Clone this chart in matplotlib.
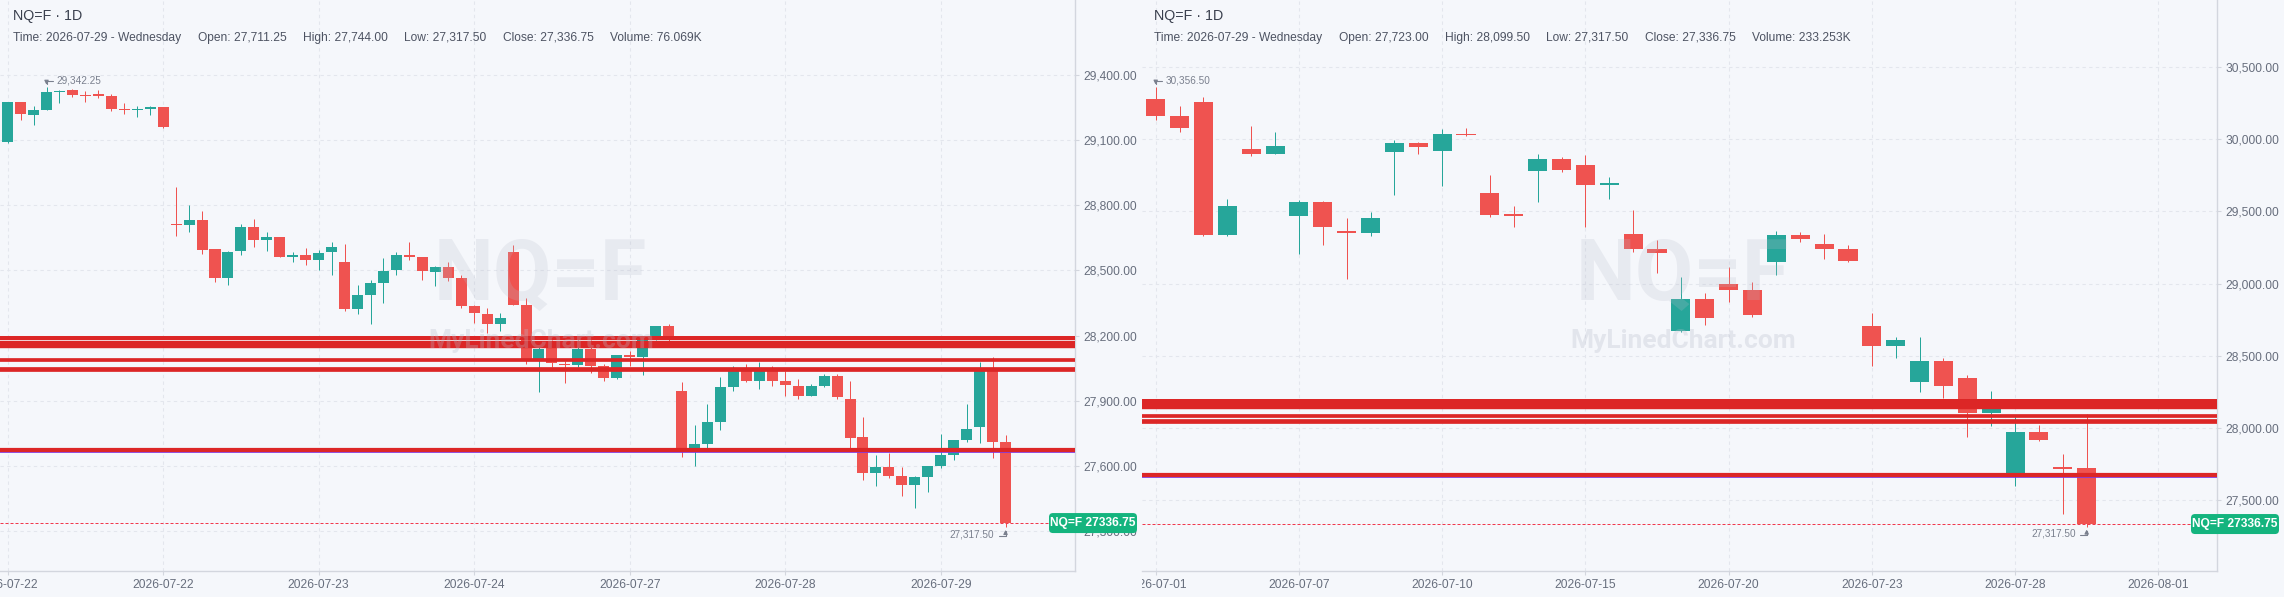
import matplotlib
matplotlib.use("Agg")
import matplotlib.pyplot as plt
from matplotlib import font_manager
from matplotlib.patches import Rectangle, FancyBboxPatch
from matplotlib.transforms import Bbox, TransformedBbox, IdentityTransform

SYMBOL = "NQ=F"

# ---- left panel: intraday bars 2026-07-22 .. 2026-07-29 ----
h2_open = [29091, 29274, 29215, 29238, 29321, 29329, 29306, 29308, 29301, 29242, 29238, 29243, 29251,
           28715, 28709, 28730, 28597, 28464, 28589, 28702, 28640, 28652, 28564, 28573, 28546, 28583,
           28537, 28320, 28389, 28444, 28500, 28573, 28564, 28491, 28514, 28463, 28334, 28297, 28251,
           28587, 28343, 28085, 28146, 28071, 28064, 28140, 28059, 28005, 28110, 28100, 28193, 28242,
           27947, 27683, 27703, 27800, 27965, 28035, 27993, 28039, 27993, 27970, 27924, 27970, 28016,
           27910, 27735, 27569, 27597, 27555, 27514, 27551, 27601, 27648, 27721, 27777, 28039, 27711.25]
h2_high = [29274, 29277, 29255, 29342.25, 29332, 29334, 29324, 29329, 29314, 29269, 29255, 29255, 29251,
           28884, 28799, 28772, 28600, 28588, 28712, 28735, 28676, 28656, 28583, 28601, 28592, 28629,
           28620, 28435, 28458, 28555, 28583, 28629, 28564, 28518, 28541, 28481, 28343, 28325, 28302,
           28615, 28371, 28150, 28180, 28085, 28180, 28180, 28070, 28112, 28127, 28185, 28246, 28251,
           27988, 27790, 27887, 28007, 28062, 28067, 28078, 28061, 28039, 27998, 27979, 28021, 28021,
           27993, 27823, 27652, 27661, 27597, 27555, 27601, 27749, 27721, 27887, 28076, 28099.5, 27744]
h2_low = [29086, 29191, 29169, 29237, 29271, 29298, 29275, 29295, 29234, 29220, 29206, 29215, 29156,
          28658, 28675, 28575, 28446, 28432, 28570, 28607, 28589, 28562, 28541, 28523, 28500, 28481,
          28311, 28297, 28251, 28352, 28481, 28546, 28458, 28426, 28449, 28329, 28256, 28210, 28223,
          28339, 28070, 27939, 28055, 27981, 28055, 28027, 27991, 27999, 28059, 28018, 28180, 28177,
          27640, 27601, 27683, 27767, 27947, 27984, 27952, 27967, 27924, 27910, 27921, 27961, 27910,
          27684, 27537, 27509, 27546, 27463, 27408, 27482, 27592, 27629, 27712, 27707, 27638, 27317.5]
h2_close = [29274, 29220, 29237, 29320, 29326, 29308, 29303, 29304, 29242, 29238, 29242, 29251, 29160,
            28709, 28730, 28593, 28464, 28587, 28702, 28638, 28652, 28564, 28573, 28546, 28578, 28610,
            28320, 28389, 28444, 28495, 28573, 28564, 28495, 28514, 28463, 28334, 28302, 28251, 28279,
            28343, 28085, 28140, 28073, 28064, 28140, 28059, 28005, 28110, 28100, 28180, 28242, 28193,
            27683, 27703, 27800, 27961, 28035, 27993, 28037, 27993, 27972, 27924, 27970, 28016, 27919,
            27730, 27569, 27597, 27555, 27514, 27551, 27601, 27648, 27721, 27772, 28039, 27712, 27336.75]
h2_tick_pos = [0, 12, 24, 36, 48, 60, 72]
h2_tick_lbl = ["2026-07-22", "2026-07-22", "2026-07-23", "2026-07-24", "2026-07-27", "2026-07-28", "2026-07-29"]
h2_yticks = [27300, 27600, 27900, 28200, 28500, 28800, 29100, 29400]
h2_date = "2026-07-29 - Wednesday"
h2_volume = "76.069K"

# ---- right panel: daily bars ----
d1_open = [30276, 30158, 30255, 29338, 29930, 29898, 29469, 29564, 29363, 29352,
           29912, 29972, 29919, 30034, 29626, 29474, 29780, 29861, 29820, 29684,
           29342, 29239, 28671, 28893, 28997, 28955, 29149, 29335, 29273, 29239,
           28706, 28569, 28322, 28464, 28346, 28106, 27690, 27972, 27729, 27723]
d1_high = [30356.5, 30228, 30290, 29584, 30089, 30048, 29577, 29571, 29453, 29494,
           29992, 29981, 30068, 30075, 29750, 29536, 29896, 29875, 29889, 29737,
           29508, 29301, 29045, 28934, 29114, 29010, 29363, 29356, 29342, 29266,
           28796, 28630, 28630, 28485, 28367, 28256, 28077, 28019, 27821, 28099.5]
d1_low = [30131, 30050, 29331, 29331, 29884, 29898, 29206, 29269, 29033, 29331,
          29614, 29896, 29677, 30020, 29462, 29393, 29564, 29773, 29393, 29584,
          29220, 29075, 28665, 28713, 28872, 28768, 29059, 29287, 29169, 29149,
          28432, 28485, 28248, 28209, 27937, 28016, 27603, 27911, 27405, 27317.5]
d1_close = [30161, 30078, 29338, 29536, 29898, 29951, 29564, 29393, 29352, 29453,
            29972, 29946, 30034, 30027, 29476, 29469, 29861, 29787, 29684, 29697,
            29239, 29213, 28893, 28761, 28955, 28782, 29335, 29308, 29239, 29156,
            28569, 28609, 28464, 28288, 28106, 28169, 27972, 27919, 27719, 27336.75]
d1_tick_pos = [0, 6, 12, 18, 24, 30, 36, 42]
d1_tick_lbl = ["2026-07-01", "2026-07-07", "2026-07-10", "2026-07-15", "2026-07-20",
               "2026-07-23", "2026-07-28", "2026-08-01"]
d1_yticks = [27500, 28000, 28500, 29000, 29500, 30000, 30500]
d1_date = "2026-07-29 - Wednesday"
d1_volume = "233.253K"

# drawn levels (same on both panels)
level_prices = [28191, 28159, 28086, 28047, 27675]
purple_level = 27662

# ---- style ----
W, H, DPI = 2284, 597, 100
BG = "#f5f7fb"
GRID = "#e3e6ed"
SPINE = "#d3d6de"
TICK_C = "#676e7d"
TEXT_C = "#4d5362"
UP, DOWN = "#26a69a", "#ef5350"
RED, PURPLE = "#dc2626", "#7c3aed"
GREEN = "#14b47e"
level_px = [4.0, 7.4, 3.7, 4.7, 4.2]
PX = 72.0 / DPI  # points per pixel

names = {f.name for f in font_manager.fontManager.ttflist}
if "Liberation Sans Narrow" in names:
    FONT, K = "Liberation Sans Narrow", 1.0
else:
    FONT, K = "Liberation Sans", 0.82
plt.rcParams["font.family"] = [FONT, "DejaVu Sans"]

fig = plt.figure(figsize=(W / DPI, H / DPI), dpi=DPI, facecolor=BG)
PLOT_H = 571


def add_panel(x0, x1):
    return fig.add_axes([x0 / W, 1 - PLOT_H / H, (x1 - x0) / W, PLOT_H / H])


def draw_panel(ax, o, h, l, c, xlim, ylim, yticks, tick_pos, tick_lbl, body_frac):
    ax.set_facecolor(BG)
    ax.set_xlim(*xlim)
    ax.set_ylim(*ylim)
    ax.yaxis.tick_right()
    ax.set_yticks(yticks)
    ax.set_yticklabels([f"{v:,.2f}" for v in yticks])
    ax.set_xticks(tick_pos)
    ax.set_xticklabels(tick_lbl)
    ax.tick_params(axis="both", length=3, width=0.8, color=SPINE, labelcolor=TICK_C,
                   labelsize=10.5 * K, pad=3)
    ax.grid(True, color=GRID, lw=0.8, linestyle=(0, (3, 3)))
    ax.set_axisbelow(True)
    for s in ("top", "left"):
        ax.spines[s].set_visible(False)
    for s in ("right", "bottom"):
        ax.spines[s].set_color(SPINE)
        ax.spines[s].set_linewidth(1.0)

    ppu = PLOT_H / (ylim[1] - ylim[0])
    min_h = 1.3 / ppu
    for i in range(len(o)):
        col = UP if c[i] >= o[i] else DOWN
        ax.vlines(i, l[i], h[i], color=col, lw=1.0 * PX, zorder=3)
        lo = min(o[i], c[i])
        ht = max(abs(c[i] - o[i]), min_h)
        ax.add_patch(Rectangle((i - body_frac / 2, lo), body_frac, ht, fc=col, ec="none", zorder=4))

    ax.axhline(purple_level, color=PURPLE, lw=1.7 * PX, zorder=5)
    for p, w in zip(level_prices, level_px):
        ax.axhline(p, color=RED, lw=w * PX, zorder=6)

    ax.axhline(c[-1], color="#f0384d", lw=1.0 * PX, dashes=(3, 2), zorder=7)

    # watermark
    ax.text(0.503, 1 - 300 / PLOT_H, SYMBOL, transform=ax.transAxes, ha="center", va="baseline",
            fontsize=61, fontweight="bold", family="Roboto", color="#b8bccb", alpha=0.22, zorder=10)
    ax.text(0.503, 1 - 348 / PLOT_H, "MyLinedChart.com", transform=ax.transAxes, ha="center",
            va="baseline", fontsize=19, fontweight="bold", family="Roboto", color="#b8bccb",
            alpha=0.3, zorder=10)

    # high / low markers
    hi_i = max(range(len(h)), key=lambda k: h[k])
    lo_i = min(range(len(l)), key=lambda k: l[k])
    arrow = dict(arrowstyle="-|>,head_length=0.25,head_width=0.12", color="#7a808e", lw=0.8,
                 connectionstyle="angle,angleA=0,angleB=90,rad=0", shrinkA=0, shrinkB=1.8)
    ax.annotate("", xy=(hi_i, h[hi_i]), xytext=(6, 6.5), textcoords="offset pixels",
                arrowprops=arrow, zorder=8)
    ax.annotate(f"{h[hi_i]:,.2f}", xy=(hi_i, h[hi_i]), xytext=(10, 6.5), textcoords="offset pixels",
                ha="left", va="center", fontsize=8.8 * K, color="#7a808e", zorder=8)
    ax.annotate("", xy=(lo_i, l[lo_i]), xytext=(-6.5, -8.5), textcoords="offset pixels",
                arrowprops=arrow, zorder=8)
    ax.annotate(f"{l[lo_i]:,.2f}", xy=(lo_i, l[lo_i]), xytext=(-11, -6.8), textcoords="offset pixels",
                ha="right", va="center", fontsize=8.8 * K, color="#7a808e", zorder=8)

    # last price tag on the axis
    yd = ax.transData.transform((0, c[-1]))[1]
    xr = ax.transAxes.transform((1, 0))[0]
    tag = FancyBboxPatch((xr - 26, yd - 10), 88, 20, boxstyle="round,pad=0,rounding_size=4",
                         fc=GREEN, ec="none", transform=IdentityTransform(), zorder=5)
    fig.add_artist(tag)
    fig.text(xr + 18, yd, f"{SYMBOL} {c[-1]:.2f}", transform=IdentityTransform(), ha="center",
             va="center", color="white", fontsize=10.5 * K, fontweight="bold", zorder=6)


def legend(x0, o, h, l, c, date, volume):
    fig.text(x0 / W, 1 - 16 / H, f"{SYMBOL} \u00b7 1D", ha="left", va="center",
             fontsize=12.5 * K, color="#3a404e")
    segs = [f"Time: {date}", f"Open: {o:,.2f}", f"High: {h:,.2f}", f"Low: {l:,.2f}",
            f"Close: {c:,.2f}", f"Volume: {volume}"]
    r = fig.canvas.get_renderer()
    x = x0
    for s in segs:
        t = fig.text(x / W, 1 - 38 / H, s, ha="left", va="center", fontsize=10.5 * K, color=TEXT_C)
        x = t.get_window_extent(renderer=r).x1 + 16.5


ax1 = add_panel(0, 1075)
ax2 = add_panel(1142, 2217)

draw_panel(ax1, h2_open, h2_high, h2_low, h2_close, (-0.59, 82.36), (27116, 29745),
           h2_yticks, h2_tick_pos, h2_tick_lbl, 0.85)
draw_panel(ax2, d1_open, d1_high, d1_low, d1_close, (-0.574, 44.46), (27012, 30960.6),
           d1_yticks, d1_tick_pos, d1_tick_lbl, 0.8)

# right panel date labels stay inside their own half
clip = TransformedBbox(Bbox([[0.5, 0], [1, 1]]), fig.transFigure)
for lbl in ax2.get_xticklabels():
    lbl.set_clip_box(clip)
    lbl.set_clip_on(True)

legend(13, h2_open[-1], h2_high[-1], h2_low[-1], h2_close[-1], h2_date, h2_volume)
legend(1154, d1_open[-1], d1_high[-1], d1_low[-1], d1_close[-1], d1_date, d1_volume)

fig.savefig("out.png", dpi=DPI, facecolor=BG)
